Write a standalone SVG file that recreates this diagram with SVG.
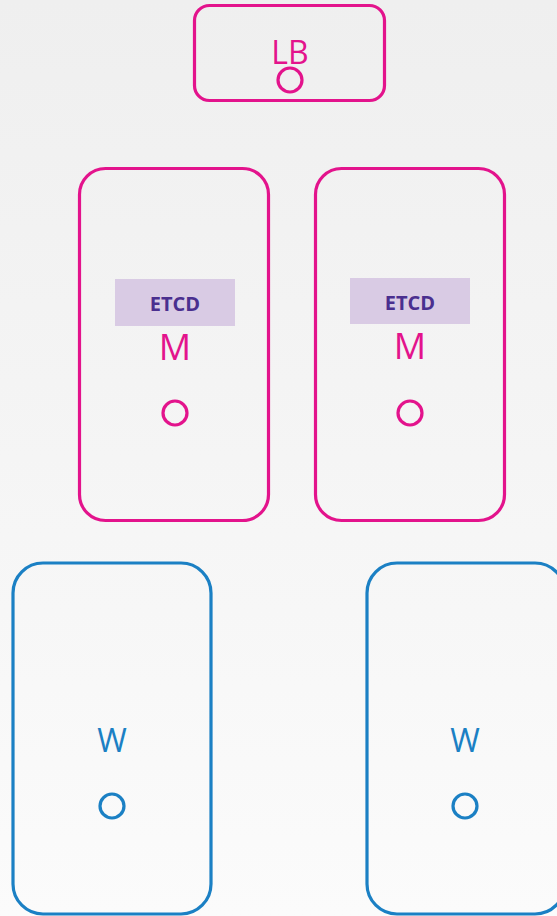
<svg xmlns="http://www.w3.org/2000/svg" width="557" height="916" viewBox="0 0 557 916">
  <defs>
    <linearGradient id="bg" x1="0" y1="0" x2="0" y2="1">
      <stop offset="0" stop-color="#efefef"/>
      <stop offset="1" stop-color="#fbfbfb"/>
    </linearGradient>
    <style>
      .m { fill: none; stroke: #e3138c; stroke-width: 3.2; }
      .w { fill: none; stroke: #1b80c4; stroke-width: 3.2; }
      .mt { font-family: "Open Sans", "Noto Sans", sans-serif; font-size: 36px; fill: #e3138c; text-anchor: middle; }
      .lbt { font-family: "Open Sans", "Noto Sans", sans-serif; font-size: 32px; fill: #e3138c; text-anchor: middle; }
      .wt { font-family: "Open Sans", "Noto Sans", sans-serif; font-size: 32px; fill: #1b80c4; text-anchor: middle; }
      .etcdbox { fill: #d9cbe4; }
      .etcd { font-family: "Open Sans", "Noto Sans", sans-serif; font-size: 20px; font-weight: bold; fill: #4a2f8f; text-anchor: middle; }
    </style>
  </defs>
  <rect width="557" height="916" fill="url(#bg)"/>
  <g id="connectors"/>
  <g id="lb">
    <rect class="m" x="194.5" y="5.5" width="190" height="95" rx="15"/>
    <text class="lbt" x="290" y="64">LB</text>
    <circle class="m" cx="290" cy="80" r="12"/>
  </g>
  <g id="master1">
    <rect class="m" x="79.5" y="168.5" width="189" height="352" rx="26"/>
    <rect class="etcdbox" x="115" y="279" width="120" height="47"/>
    <text class="etcd" x="175" y="311">ETCD</text>
    <text class="mt" x="175" y="360">M</text>
    <circle class="m" cx="175" cy="413" r="12"/>
  </g>
  <g id="master2">
    <rect class="m" x="315.5" y="168.5" width="189" height="352" rx="26"/>
    <rect class="etcdbox" x="350" y="278" width="120" height="46"/>
    <text class="etcd" x="410" y="309.5">ETCD</text>
    <text class="mt" x="410" y="359">M</text>
    <circle class="m" cx="410" cy="413" r="12"/>
  </g>
  <g id="worker1">
    <rect class="w" x="13" y="563" width="198" height="351" rx="30"/>
    <text class="wt" x="112" y="752">W</text>
    <circle class="w" cx="112" cy="806" r="12"/>
  </g>
  <g id="worker2">
    <rect class="w" x="367" y="563" width="198" height="351" rx="30"/>
    <text class="wt" x="465" y="752">W</text>
    <circle class="w" cx="465" cy="806" r="12"/>
  </g>
</svg>
